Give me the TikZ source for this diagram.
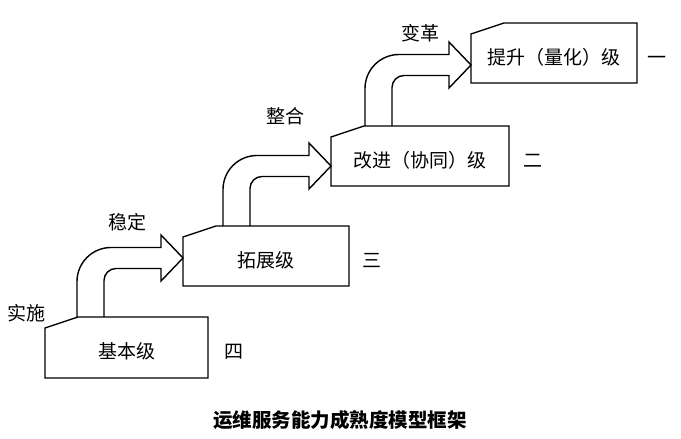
\documentclass[tikz,border=0pt]{standalone}
\usepackage{fontspec}
\newfontfamily\cjk{Noto Sans CJK SC}
\usetikzlibrary{positioning}
\tikzset{stagebox/.style={rectangle,minimum width=166pt,minimum height=60pt,inner sep=0pt,outer sep=0pt,text height=24pt,text depth=2pt,font=\cjk\fontsize{19}{21}\selectfont}}
\tikzset{stagenum/.style={inner sep=0pt,text height=24pt,text depth=2pt,font=\cjk\fontsize{19}{21}\selectfont}}
\tikzset{steplabel/.style={inner sep=0pt,font=\cjk\fontsize{19}{21}\selectfont}}
\tikzset{flow/.style={line width=1.4pt,line join=miter}}

\begin{document}
\begin{tikzpicture}[x=1pt,y=-1pt]
  \useasboundingbox (0,0) rectangle (681,439);
  \node[stagebox,minimum width=163pt,minimum height=61pt] (basic) at (126.5,347.5) {基本级};
  \node[stagebox] (expand) at (266,256) {拓展级};
  \node[stagebox,minimum width=178pt] (improve) at (420,156) {改进（协同）级};
  \node[stagebox] (raise) at (554,53) {提升（量化）级};
  \node[stagenum,right=16pt of basic] (four) {四};
  \node[stagenum,right=13pt of expand] (three) {三};
  \node[stagenum,right=14pt of improve] (two) {二};
  \node[stagenum,right=10pt of raise] (one) {一};
  % chamfered outlines
  \foreach \b in {basic,expand,improve,raise}
    \draw[flow] ([yshift=-11pt]\b.north west) -- ([xshift=33pt]\b.north west) -- (\b.north east)
      -- (\b.south east) -- (\b.south west) -- cycle;
  % block arrows between the stages
  \foreach \lo/\hi/\dx/\dy in {basic/expand/32/2,expand/improve/40/10,improve/raise/34/12} {
    \coordinate (s) at ([xshift=\dx]\lo.north west);
    \coordinate (e) at ([xshift=\dx+27]\lo.north west);
    \coordinate (tip) at ([shift={(0,\dy)}]\hi.west);
    \coordinate (h) at ([shift={(-22,-10.5)}]tip);
    \draw[flow] (s) [rounded corners=34pt] -- (s |- h) [sharp corners] -- (h) -- ++(0,-12.5) -- (tip)
      -- ++(-22,23) -- ++(0,-12.5) coordinate (k) [rounded corners=12pt] -- (k -| e) [sharp corners] -- (e);
  }
  \node[steplabel] (impl) at (27,313) {实施};
  \node[steplabel] (stab) at (127,222) {稳定};
  \node[steplabel] (integ) at (285,116) {整合};
  \node[steplabel] (reform) at (420,33) {变革};
  \node[steplabel,font=\cjk\bfseries\fontsize{19.5}{22}\selectfont] (caption) at (340,420) {运维服务能力成熟度模型框架};
\end{tikzpicture}
\end{document}
